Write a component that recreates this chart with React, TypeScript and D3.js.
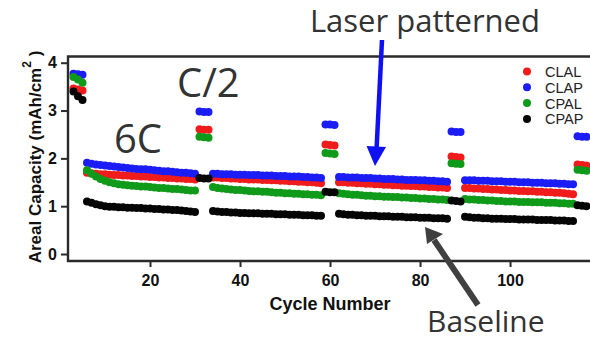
import { useEffect, useRef } from 'react'
import * as d3 from 'd3'

// cycles 3..117 (first two cycles are off the left edge)
const firstCycle = 3

const clal = [
  3.46, 3.44, 3.42,
  1.70, 1.69, 1.68, 1.67, 1.67, 1.66, 1.65, 1.65, 1.64, 1.64, 1.63, 1.63, 1.62, 1.62, 1.61, 1.61, 1.60, 1.60, 1.59, 1.59, 1.58, 1.58, 1.57, 1.57, 1.56,
  2.61, 2.60, 2.60,
  1.60, 1.60, 1.59, 1.59, 1.58, 1.58, 1.57, 1.57, 1.56, 1.56, 1.56, 1.55, 1.55, 1.54, 1.54, 1.53, 1.53, 1.52, 1.52, 1.51, 1.51, 1.50, 1.50, 1.49, 1.48,
  2.29, 2.28, 2.27,
  1.50, 1.50, 1.49, 1.49, 1.48, 1.48, 1.47, 1.47, 1.46, 1.46, 1.45, 1.45, 1.44, 1.44, 1.43, 1.43, 1.42, 1.42, 1.41, 1.41, 1.40, 1.40, 1.39, 1.39, 1.38,
  2.04, 2.03, 2.02,
  1.38, 1.38, 1.37, 1.37, 1.36, 1.36, 1.35, 1.35, 1.34, 1.34, 1.33, 1.33, 1.32, 1.32, 1.31, 1.31, 1.30, 1.30, 1.29, 1.29, 1.28, 1.28, 1.27, 1.26, 1.25,
  1.87, 1.86, 1.85,
]

const clap = [
  3.77, 3.76, 3.75,
  1.91, 1.89, 1.87, 1.86, 1.85, 1.84, 1.83, 1.82, 1.81, 1.80, 1.79, 1.78, 1.77, 1.77, 1.76, 1.75, 1.74, 1.73, 1.73, 1.72, 1.71, 1.70, 1.70, 1.69, 1.68,
  2.98, 2.97, 2.97,
  1.68, 1.68, 1.67, 1.67, 1.67, 1.66, 1.66, 1.66, 1.65, 1.65, 1.65, 1.64, 1.64, 1.64, 1.63, 1.63, 1.63, 1.62, 1.62, 1.62, 1.61, 1.61, 1.60, 1.60, 1.59,
  2.71, 2.71, 2.70,
  1.61, 1.61, 1.60, 1.60, 1.60, 1.59, 1.59, 1.59, 1.58, 1.58, 1.57, 1.57, 1.57, 1.56, 1.56, 1.55, 1.55, 1.55, 1.54, 1.54, 1.53, 1.53, 1.52, 1.52, 1.51,
  2.56, 2.55, 2.55,
  1.54, 1.54, 1.54, 1.53, 1.53, 1.53, 1.52, 1.52, 1.52, 1.51, 1.51, 1.51, 1.50, 1.50, 1.50, 1.49, 1.49, 1.49, 1.48, 1.48, 1.48, 1.47, 1.47, 1.46, 1.46,
  2.46, 2.45, 2.45,
]

const cpal = [
  3.70, 3.65, 3.58,
  1.75, 1.68, 1.62, 1.57, 1.53, 1.50, 1.48, 1.46, 1.45, 1.44, 1.43, 1.42, 1.41, 1.41, 1.40, 1.39, 1.38, 1.38, 1.37, 1.36, 1.36, 1.35, 1.34, 1.33, 1.33,
  2.45, 2.44, 2.43,
  1.40, 1.38, 1.37, 1.36, 1.35, 1.34, 1.34, 1.33, 1.32, 1.31, 1.31, 1.30, 1.30, 1.29, 1.28, 1.28, 1.27, 1.27, 1.26, 1.26, 1.25, 1.25, 1.24, 1.24, 1.23,
  2.11, 2.10, 2.09,
  1.27, 1.26, 1.25, 1.24, 1.24, 1.23, 1.22, 1.22, 1.21, 1.21, 1.20, 1.20, 1.19, 1.19, 1.18, 1.18, 1.17, 1.17, 1.16, 1.16, 1.15, 1.15, 1.14, 1.14, 1.13,
  1.90, 1.89, 1.88,
  1.15, 1.14, 1.14, 1.13, 1.13, 1.12, 1.12, 1.11, 1.11, 1.10, 1.10, 1.10, 1.09, 1.09, 1.09, 1.08, 1.08, 1.08, 1.07, 1.07, 1.07, 1.06, 1.06, 1.05, 1.05,
  1.76, 1.75, 1.74,
]

const cpap = [
  3.40, 3.30, 3.22,
  1.10, 1.07, 1.04, 1.02, 1.00, 0.99, 0.99, 0.98, 0.98, 0.97, 0.97, 0.96, 0.96, 0.95, 0.95, 0.94, 0.94, 0.93, 0.93, 0.92, 0.92, 0.91, 0.90, 0.89, 0.88,
  1.59, 1.58, 1.58,
  0.90, 0.89, 0.88, 0.88, 0.87, 0.87, 0.86, 0.86, 0.85, 0.85, 0.85, 0.84, 0.84, 0.84, 0.83, 0.83, 0.83, 0.82, 0.82, 0.82, 0.81, 0.81, 0.81, 0.80, 0.80,
  1.30, 1.29, 1.29,
  0.84, 0.83, 0.82, 0.82, 0.81, 0.81, 0.80, 0.80, 0.80, 0.79, 0.79, 0.79, 0.78, 0.78, 0.78, 0.77, 0.77, 0.77, 0.76, 0.76, 0.76, 0.75, 0.75, 0.75, 0.74,
  1.12, 1.11, 1.10,
  0.78, 0.77, 0.76, 0.76, 0.75, 0.75, 0.74, 0.74, 0.74, 0.73, 0.73, 0.73, 0.72, 0.72, 0.72, 0.72, 0.71, 0.71, 0.71, 0.71, 0.70, 0.70, 0.70, 0.69, 0.69,
  1.02, 1.01, 1.00,
]

const seriesNames = ['CLAL', 'CLAP', 'CPAL', 'CPAP']
const seriesValues = [clal, clap, cpal, cpap]
const seriesColors = ['#f01c1c', '#1c1cf5', '#0f9a1a', '#050505']

const xTicks = [20, 40, 60, 80, 100]
const yTicks = [0, 1, 2, 3, 4]

const W = 590
const H = 341

export default function App() {
  const ref = useRef<SVGSVGElement>(null)

  useEffect(() => {
    document.body.style.margin = '0'
    const svg = d3.select(ref.current)
    svg.selectAll('*').remove()

    const left = 68, right = 596, top = 56.5, bottom = 261
    const x = d3.scaleLinear().domain([1.78, 119.1]).range([left, right])
    const y = d3.scaleLinear().domain([-0.146, 4.13]).range([bottom, top])

    const plotFont = "'Liberation Sans', Arial, sans-serif"
    const noteFont = "'Open Sans', 'Noto Sans', sans-serif"

    // points
    svg.append('clipPath').attr('id', 'plot-clip')
      .append('rect').attr('x', left).attr('y', top).attr('width', W - left).attr('height', bottom - top)

    const pts = svg.append('g').attr('clip-path', 'url(#plot-clip)')
    seriesValues.forEach((vals, i) => {
      pts.append('g')
        .selectAll('circle')
        .data(vals)
        .enter()
        .append('circle')
        .attr('cx', (_, j) => x(firstCycle + j))
        .attr('cy', d => y(d))
        .attr('r', 4)
        .attr('fill', seriesColors[i])
    })

    // frame
    svg.append('path')
      .attr('d', `M${right},${top}H${left}V${bottom}H${right}`)
      .attr('fill', 'none')
      .attr('stroke', '#2a2a2a')
      .attr('stroke-width', 2.4)

    // axes
    const xAxis = svg.append('g')
      .attr('transform', `translate(0,${bottom})`)
      .call(d3.axisBottom(x).tickValues(xTicks).tickSize(6).tickPadding(8))
    xAxis.select('.domain').remove()
    xAxis.selectAll('line').attr('stroke', '#2a2a2a').attr('stroke-width', 2)
    xAxis.selectAll('text')
      .style('font-family', plotFont).style('font-size', '16px').style('font-weight', '700').attr('fill', '#111')

    const yAxis = svg.append('g')
      .attr('transform', `translate(${left},0)`)
      .call(d3.axisLeft(y).tickValues(yTicks).tickFormat(d3.format('d')).tickSize(7).tickPadding(4))
    yAxis.select('.domain').remove()
    yAxis.selectAll('line').attr('stroke', '#2a2a2a').attr('stroke-width', 2)
    yAxis.selectAll('text')
      .style('font-family', plotFont).style('font-size', '16px').style('font-weight', '700').attr('fill', '#111')

    svg.append('text')
      .attr('x', 330).attr('y', 310)
      .attr('text-anchor', 'middle')
      .style('font-family', plotFont).style('font-size', '18px').style('font-weight', '700').attr('fill', '#111')
      .text('Cycle Number')

    const yt = svg.append('text')
      .attr('transform', 'translate(41,157) rotate(-90)')
      .attr('text-anchor', 'middle')
      .style('font-family', plotFont).style('font-size', '17px').style('font-weight', '700').attr('fill', '#111')
    yt.append('tspan').text('Areal Capacity (mAh/cm')
    yt.append('tspan').attr('dy', -10).style('font-size', '12px').text('2')
    yt.append('tspan').attr('dy', 10).text(' )')

    // legend
    const lg = svg.append('g').attr('transform', 'translate(527,71.5)')
    seriesNames.forEach((name, i) => {
      lg.append('circle').attr('cx', 0).attr('cy', i * 15.8).attr('r', 4).attr('fill', seriesColors[i])
      lg.append('text').attr('x', 18).attr('y', i * 15.8 + 5.5)
        .style('font-family', plotFont).style('font-size', '14.5px').attr('fill', '#222')
        .text(name)
    })

    // annotations
    const note = (tx: number, ty: number, size: number, label: string, anchor = 'start') =>
      svg.append('text').attr('x', tx).attr('y', ty).attr('text-anchor', anchor)
        .style('font-family', noteFont).style('font-size', `${size}px`).attr('fill', '#333')
        .text(label)
    note(114, 153, 40, '6C')
    note(177, 97, 40, 'C/2')
    note(540, 32, 31, 'Laser patterned', 'end')
    note(427, 332, 30, 'Baseline')

    // blue arrow
    svg.append('line').attr('x1', 382).attr('y1', 40).attr('x2', 376.5).attr('y2', 150)
      .attr('stroke', '#1010f5').attr('stroke-width', 4.5)
    svg.append('path').attr('d', 'M366.5,146 L386,147 L375,166 Z').attr('fill', '#1010f5')

    // gray arrow
    svg.append('line').attr('x1', 478).attr('y1', 305).attr('x2', 434).attr('y2', 240)
      .attr('stroke', '#404040').attr('stroke-width', 6)
    svg.append('path').attr('d', 'M425,227 L443,234 L427,244 Z').attr('fill', '#404040')
  }, [])

  return <svg ref={ref} width={W} height={H} style={{ display: 'block', background: '#fff' }} />
}
